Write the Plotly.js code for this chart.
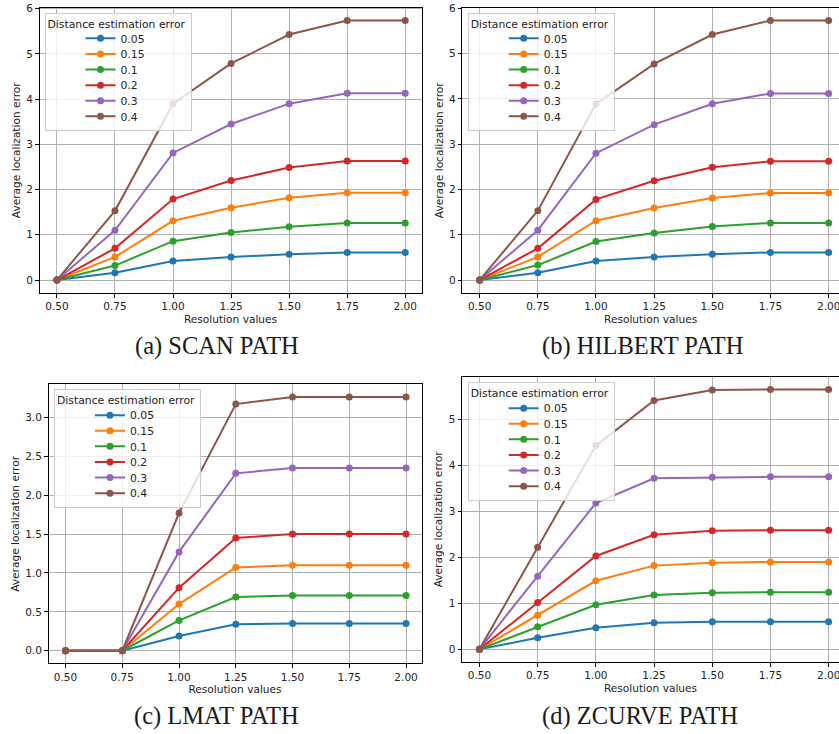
<!DOCTYPE html>
<html><head><meta charset="utf-8">
<script src="https://cdn.plot.ly/plotly-3.0.1.min.js"></script>
<style>html,body{margin:0;padding:0;background:#fff;} #chart{width:839px;height:734px;}</style>
</head><body><div id="chart"></div>
<script>
// ---------------- data ----------------
const resolution = [0.5, 0.75, 1.0, 1.25, 1.5, 1.75, 2.0];
const seriesNames = ['0.05', '0.15', '0.1', '0.2', '0.3', '0.4'];
const seriesColors = ['#1f77b4', '#ff7f0e', '#2ca02c', '#d62728', '#9467bd', '#8c564b'];
const panelCaptions = ['(a) SCAN PATH', '(b) HILBERT PATH', '(c) LMAT PATH', '(d) ZCURVE PATH'];
const legendTitle = 'Distance estimation error';
const xTitle = 'Resolution values';
const yTitle = 'Average localization error';

const scanValues = [
  [0, 0.16, 0.42, 0.51, 0.57, 0.61, 0.61],
  [0, 0.51, 1.31, 1.60, 1.82, 1.93, 1.93],
  [0, 0.32, 0.86, 1.05, 1.18, 1.26, 1.26],
  [0, 0.70, 1.79, 2.20, 2.49, 2.63, 2.63],
  [0, 1.10, 2.81, 3.45, 3.90, 4.13, 4.13],
  [0, 1.53, 3.90, 4.79, 5.43, 5.74, 5.74]
];
const hilbertValues = [
  [0, 0.16, 0.42, 0.51, 0.57, 0.61, 0.61],
  [0, 0.51, 1.31, 1.59, 1.81, 1.92, 1.92],
  [0, 0.33, 0.85, 1.04, 1.18, 1.26, 1.26],
  [0, 0.70, 1.78, 2.19, 2.49, 2.62, 2.62],
  [0, 1.10, 2.80, 3.43, 3.89, 4.12, 4.12],
  [0, 1.53, 3.89, 4.77, 5.42, 5.73, 5.73]
];
const lmatValues = [
  [0, 0, 0.19, 0.34, 0.35, 0.35, 0.35],
  [0, 0, 0.60, 1.07, 1.10, 1.10, 1.10],
  [0, 0, 0.39, 0.69, 0.71, 0.71, 0.71],
  [0, 0, 0.81, 1.45, 1.50, 1.50, 1.50],
  [0, 0, 1.27, 2.28, 2.35, 2.35, 2.35],
  [0, 0, 1.77, 3.17, 3.26, 3.26, 3.26]
];
const zcurveValues = [
  [0, 0.25, 0.47, 0.58, 0.60, 0.60, 0.60],
  [0, 0.74, 1.49, 1.82, 1.88, 1.90, 1.90],
  [0, 0.49, 0.97, 1.18, 1.23, 1.24, 1.24],
  [0, 1.02, 2.03, 2.49, 2.58, 2.59, 2.59],
  [0, 1.59, 3.18, 3.72, 3.74, 3.75, 3.75],
  [0, 2.22, 4.43, 5.41, 5.64, 5.65, 5.65]
];
const panelValues = [scanValues, hilbertValues, lmatValues, zcurveValues];

// ---------------- layout geometry (pixels) ----------------
const W = 839, H = 734;
const panels = [
  {left: 39.5, right: 421.5, top: 7.5, bottom: 293, xmax: 2.070, dtick: 1, fmt: 'd',
   legX: 44.5, legY: 12.5, capX: 216.5, capY: 346},
  {left: 462.2, right: 839, top: 7.5, bottom: 293, xmax: 2.0445, dtick: 1, fmt: 'd',
   legX: 467.7, legY: 12.5, capX: 642, capY: 346},
  {left: 48.5, right: 421.5, top: 384.4, bottom: 663.4, xmax: 2.068, dtick: 0.5, fmt: '.1f',
   legX: 54, legY: 389.3, capX: 216.5, capY: 715.5},
  {left: 462, right: 839, top: 376.5, bottom: 662.3, xmax: 2.0445, dtick: 1, fmt: 'd',
   legX: 467.7, legY: 382.3, capX: 640, capY: 715.5}
];

const tickFont = {family: 'DejaVu Sans', size: 10.5, color: '#222'};
const traces = [];
const layout = {
  width: W, height: H,
  margin: {l: 0, r: 0, t: 0, b: 0},
  paper_bgcolor: '#fff', plot_bgcolor: '#fff',
  showlegend: true,
  annotations: []
};

panels.forEach((p, i) => {
  const n = i === 0 ? '' : String(i + 1);
  const vals = panelValues[i];
  let ymin = Infinity, ymax = -Infinity;
  vals.forEach(s => s.forEach(v => { ymin = Math.min(ymin, v); ymax = Math.max(ymax, v); }));
  const pad = (ymax - ymin) * 0.05;
  const legName = 'legend' + n;

  vals.forEach((s, k) => {
    traces.push({
      type: 'scatter', mode: 'lines+markers',
      x: resolution, y: s, name: seriesNames[k],
      xaxis: 'x' + n, yaxis: 'y' + n, legend: legName,
      line: {color: seriesColors[k], width: 2},
      marker: {color: seriesColors[k], size: 7},
      cliponaxis: true
    });
  });

  const axisCommon = {
    showline: true, linecolor: '#000', linewidth: 1, mirror: true,
    ticks: 'outside', ticklen: 3.5, tickwidth: 1, tickcolor: '#000',
    showgrid: true, gridcolor: '#b0b0b0', gridwidth: 1,
    zeroline: false, tickfont: tickFont, ticklabeloverflow: 'allow'
  };
  layout['xaxis' + n] = Object.assign({}, axisCommon, {
    domain: [p.left / W, p.right / W],
    range: [0.425, p.xmax],
    tick0: 0.5, dtick: 0.25, tickformat: '.2f',
    anchor: 'y' + n,
    title: {text: xTitle, font: {family: 'DejaVu Sans', size: 10.6, color: '#222'}, standoff: 4}
  });
  layout['yaxis' + n] = Object.assign({}, axisCommon, {
    domain: [1 - p.bottom / H, 1 - p.top / H],
    range: [ymin - pad, ymax + pad],
    tick0: 0, dtick: p.dtick, tickformat: p.fmt,
    anchor: 'x' + n,
    title: {text: yTitle, font: {family: 'DejaVu Sans', size: 10.6, color: '#222'}, standoff: 3}
  });
  layout[legName] = {
    x: p.legX / W, y: 1 - p.legY / H, xanchor: 'left', yanchor: 'top',
    bgcolor: 'rgba(255,255,255,0.8)', bordercolor: '#cccccc', borderwidth: 1,
    font: {family: 'DejaVu Sans', size: 10.8, color: '#222'},
    title: {text: legendTitle, side: 'top', font: {family: 'DejaVu Sans', size: 10.8, color: '#222'}},
    tracegroupgap: 0
  };
  layout.annotations.push({
    text: panelCaptions[i], xref: 'paper', yref: 'paper',
    x: p.capX / W, y: 1 - p.capY / H, xanchor: 'center', yanchor: 'middle',
    showarrow: false,
    font: {family: 'Liberation Serif', size: 24.5, color: '#1a1a1a'}
  });
});

// Compact the legend entries (matplotlib-like spacing, entries centred under the title)
function tightenLegends() {
  const spacing = 15.6, firstShift = -3.7, dx = 35, boxW = 146;
  ['legend', 'legend2', 'legend3', 'legend4'].forEach(id => {
    const g = document.querySelector('#chart g.' + id);
    if (!g) return;
    const items = g.querySelectorAll('g.traces');
    let oldSp = 19, t0 = null;
    items.forEach((it, k) => {
      const m = /translate\(\s*([-\d.e]+)[ ,]\s*([-\d.e]+)\s*\)/.exec(it.getAttribute('transform') || '');
      if (!m) return;
      const tx = parseFloat(m[1]), ty = parseFloat(m[2]);
      if (k === 0) t0 = ty;
      if (k === 1) oldSp = ty - t0;
      it.setAttribute('transform', 'translate(' + (tx + dx) + ',' + (t0 + firstShift + k * spacing) + ')');
    });
    const bg = g.querySelector('rect.bg');
    if (bg) {
      const h = parseFloat(bg.getAttribute('height'));
      bg.setAttribute('height', h - (items.length - 1) * (oldSp - spacing) + firstShift - 1.6);
      bg.setAttribute('width', boxW);
    }
  });
}

Plotly.newPlot('chart', traces, layout, {displayModeBar: false, staticPlot: true}).then(tightenLegends);
</script>
</body></html>
